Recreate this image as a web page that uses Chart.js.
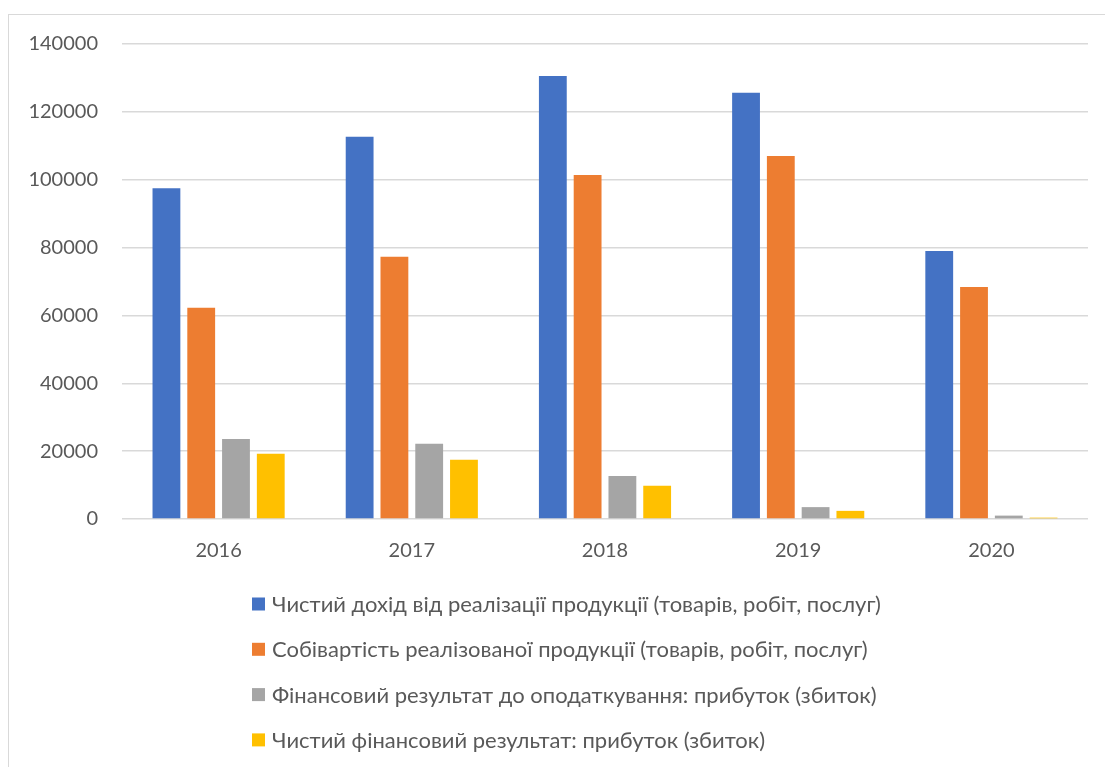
<!DOCTYPE html>
<html>
<head>
<meta charset="utf-8">
<script src="https://cdn.jsdelivr.net/npm/chart.js@4"></script>
<style>
  html, body { margin: 0; padding: 0; background: #fff; }
  #wrap { position: relative; width: 1105px; height: 767px; overflow: hidden; }
  #frame { position: absolute; left: 8px; top: 14px; width: 1200px; height: 900px;
           border: 1px solid #d9d9d9; box-sizing: border-box; }
  canvas { position: absolute; left: 0; top: 0; }
</style>
</head>
<body>
<div id="wrap">
  <div id="frame"></div>
  <canvas id="chart" width="1105" height="767"></canvas>
</div>
<script>
// Years on the category axis
const years = ['2016', '2017', '2018', '2019', '2020'];

// Series names
const seriesNames = [
  'Чистий дохід від реалізації продукції (товарів, робіт, послуг)',
  'Собівартість реалізованої продукції (товарів, робіт, послуг)',
  'Фінансовий результат до оподаткування: прибуток (збиток)',
  'Чистий фінансовий результат: прибуток (збиток)'
];

// Values per series, by year
const netRevenue   = [97500, 112700, 130600, 125600, 79000];
const costOfSales  = [62300, 77300, 101400, 107000, 68400];
const profitBeforeTax = [23600, 22200, 12700, 3500, 1000];
const netProfit    = [19200, 17500, 9800, 2400, 400];

// Value-axis ticks
const yMin = 0, yMax = 140000, yStep = 20000;

const colors = ['#4472C4', '#ED7D31', '#A5A5A5', '#FFC000'];
const seriesValues = [netRevenue, costOfSales, profitBeforeTax, netProfit];

const textColor = '#595959';
const fontFamily = 'Lato, "Open Sans", sans-serif';

// Vertical list legend drawn under the plot
const listLegend = {
  id: 'listLegend',
  afterDraw(chart, args, opts) {
    const ctx = chart.ctx;
    ctx.save();
    ctx.font = opts.font;
    ctx.textBaseline = 'middle';
    ctx.textAlign = 'left';
    chart.data.datasets.forEach((ds, i) => {
      const cy = opts.top + i * opts.rowGap;
      ctx.fillStyle = ds.backgroundColor;
      ctx.fillRect(opts.left, cy - opts.box / 2, opts.box, opts.box);
      ctx.fillStyle = opts.color;
      ctx.fillText(ds.label, opts.left + opts.box + opts.gap, cy + 1);
    });
    ctx.restore();
  }
};

new Chart(document.getElementById('chart'), {
  type: 'bar',
  data: {
    labels: years,
    datasets: seriesNames.map((name, i) => ({
      label: name,
      data: seriesValues[i],
      backgroundColor: colors[i],
      borderWidth: 0,
      categoryPercentage: 0.72,
      barPercentage: 0.8
    }))
  },
  options: {
    responsive: false,
    animation: false,
    layout: { padding: { top: 44, right: 17, left: 0, bottom: 203 } },
    plugins: {
      legend: { display: false },
      tooltip: { enabled: false },
      listLegend: {
        left: 252, top: 604, rowGap: 45.3, box: 13, gap: 7,
        font: '22px ' + fontFamily, color: textColor
      }
    },
    scales: {
      x: {
        grid: { display: false, drawTicks: false },
        border: { display: false },
        ticks: { color: textColor, font: { family: fontFamily, size: 20 }, padding: 20 },
        afterFit(scale) { scale.height = 45; }
      },
      y: {
        min: yMin, max: yMax,
        grid: { color: '#d9d9d9', lineWidth: 1.4, drawTicks: false },
        border: { display: false },
        ticks: {
          stepSize: yStep, color: textColor, font: { family: fontFamily, size: 20 }, padding: 24,
          callback: (v) => String(v)
        },
        afterFit(scale) { scale.width = 122; }
      }
    }
  },
  plugins: [listLegend]
});
</script>
</body>
</html>
